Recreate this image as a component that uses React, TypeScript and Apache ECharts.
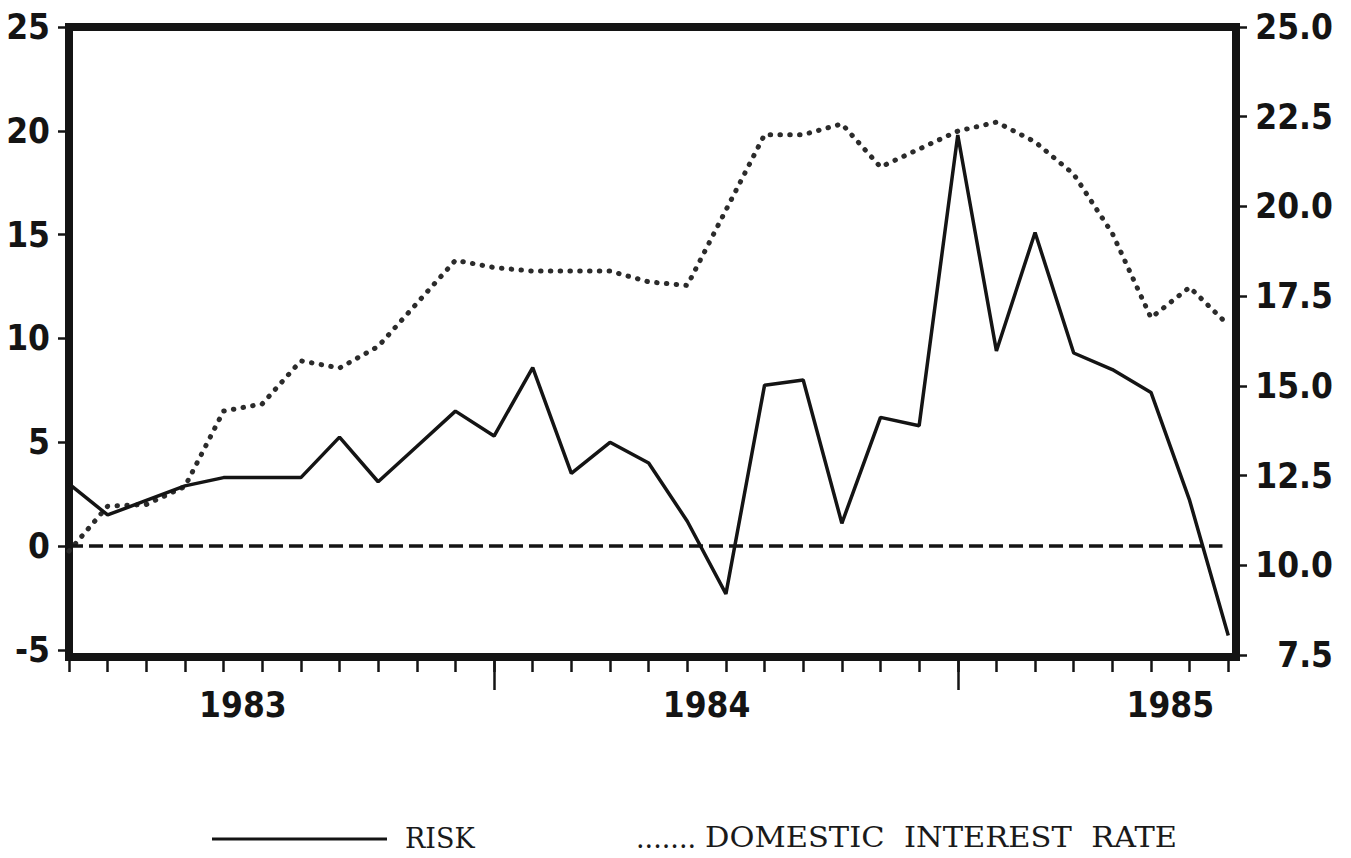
import React, { useEffect, useRef } from 'react';
import * as echarts from 'echarts';

// Monthly observations, Feb 1983 – Aug 1985
const months = [
  '1983-02', '1983-03', '1983-04', '1983-05', '1983-06', '1983-07', '1983-08', '1983-09', '1983-10', '1983-11', '1983-12',
  '1984-01', '1984-02', '1984-03', '1984-04', '1984-05', '1984-06', '1984-07', '1984-08', '1984-09', '1984-10', '1984-11', '1984-12',
  '1985-01', '1985-02', '1985-03', '1985-04', '1985-05', '1985-06', '1985-07', '1985-08',
];

// RISK (left axis)
const risk = [
  3.0, 1.5, 2.2, 2.9, 3.3, 3.3, 3.3, 5.25, 3.1, 4.8, 6.5,
  5.3, 8.6, 3.5, 5.0, 4.0, 1.2, -2.3, 7.75, 8.0, 1.1, 6.2, 5.8,
  19.8, 9.4, 15.1, 9.3, 8.5, 7.4, 2.2, -4.3,
];

// DOMESTIC INTEREST RATE (right axis)
const rate = [
  10.4, 11.65, 11.7, 12.2, 14.3, 14.5, 15.7, 15.5, 16.1, 17.3, 18.5,
  18.3, 18.2, 18.2, 18.2, 17.9, 17.8, 19.9, 22.0, 22.0, 22.3, 21.1, 21.6,
  22.1, 22.35, 21.8, 20.9, 19.25, 16.9, 17.75, 16.7,
];

const leftTicks = [-5, 0, 5, 10, 15, 20, 25];
const rightTicks = [7.5, 10, 12.5, 15, 17.5, 20, 22.5, 25];
const zeroLine = 0;

const monthIdx = months.map((_, i) => i);
const janIdx = months.map((m, i) => (m.endsWith('-01') ? i : -1)).filter((i) => i >= 0);
const midYear = months.map((m, i) => (m.endsWith('-07') ? i - 0.5 : -1)).filter((i) => i >= 0);

const labelFont = "'DejaVu Sans Condensed', 'DejaVu Sans', sans-serif";
const ink = '#141414';

export default function App() {
  const ref = useRef<HTMLDivElement>(null);
  useEffect(() => {
    const chart = echarts.init(ref.current!, null, { renderer: 'svg' });
    const xMax = 30.2;
    const axisLabelStyle = {
      fontFamily: labelFont,
      fontWeight: 'bold' as const,
      fontSize: 35,
      color: ink,
    };
    const tickLine = { color: ink, width: 2.5 };
    chart.setOption({
      animation: false,
      backgroundColor: '#ffffff',
      grid: {
        left: 69,
        right: 115,
        top: 27,
        bottom: 201,
        show: true,
        borderColor: ink,
        borderWidth: 8,
      },
      xAxis: [
        {
          type: 'value',
          min: 0,
          max: xMax,
          position: 'bottom',
          axisLine: { show: false, onZero: false },
          splitLine: { show: false },
          axisTick: { show: true, customValues: monthIdx, length: 15, lineStyle: tickLine },
          axisLabel: {
            customValues: midYear,
            formatter: (v: number) => months[Math.round(v + 0.5)].slice(0, 4),
            margin: 30,
            ...axisLabelStyle,
          },
        },
        {
          type: 'value',
          min: 0,
          max: xMax,
          position: 'bottom',
          axisLine: { show: false, onZero: false },
          splitLine: { show: false },
          axisTick: { show: true, customValues: janIdx, length: 33, lineStyle: tickLine },
          axisLabel: { show: false },
        },
      ],
      yAxis: [
        {
          type: 'value',
          position: 'left',
          min: -5.34,
          max: 25,
          axisLine: { show: false, onZero: false },
          splitLine: { show: false },
          axisTick: { show: true, customValues: leftTicks, length: 11, lineStyle: tickLine },
          axisLabel: {
            customValues: leftTicks,
            margin: 19,
            formatter: (v: number) => String(v),
            ...axisLabelStyle,
          },
        },
        {
          type: 'value',
          position: 'right',
          min: 7.45,
          max: 25,
          axisLine: { show: false, onZero: false },
          splitLine: { show: false },
          axisTick: { show: true, customValues: rightTicks, length: 11, lineStyle: tickLine },
          axisLabel: {
            customValues: rightTicks,
            margin: 97,
            align: 'right',
            formatter: (v: number) => v.toFixed(1),
            ...axisLabelStyle,
          },
        },
      ],
      series: [
        {
          name: 'RISK',
          type: 'line',
          xAxisIndex: 0,
          yAxisIndex: 0,
          data: risk.map((v, i) => [i, v]),
          symbol: 'none',
          lineStyle: { color: ink, width: 3.5 },
          markLine: {
            silent: true,
            symbol: ['none', 'none'],
            label: { show: false },
            lineStyle: { color: ink, width: 3.5, type: [14, 6] },
            data: [[{ coord: [0, zeroLine] }, { coord: [29.85, zeroLine] }]],
          },
          z: 3,
        },
        {
          name: 'DOMESTIC INTEREST RATE',
          type: 'line',
          xAxisIndex: 0,
          yAxisIndex: 1,
          data: rate.map((v, i) => [i, v]),
          symbol: 'none',
          lineStyle: { color: '#2b2b2b', width: 5, type: [0.5, 9.3], cap: 'round' },
          z: 2,
        },
      ],
      graphic: [
        {
          type: 'line',
          shape: { x1: 212, y1: 839, x2: 387, y2: 839 },
          style: { stroke: ink, lineWidth: 3 },
        },
        {
          type: 'text',
          x: 405,
          y: 838,
          style: {
            text: 'RISK',
            font: "27px 'DejaVu Serif', serif",
            fill: '#1a1a1a',
            verticalAlign: 'middle',
          },
        },
        {
          type: 'text',
          x: 636,
          y: 838,
          style: {
            text: '.......',
            font: "27px 'DejaVu Serif', serif",
            fill: '#1a1a1a',
            verticalAlign: 'middle',
          },
        },
        {
          type: 'text',
          x: 705,
          y: 838,
          scaleX: 1.13,
          style: {
            text: 'DOMESTIC  INTEREST  RATE',
            font: "27px 'DejaVu Serif', serif",
            fill: '#1a1a1a',
            verticalAlign: 'middle',
          },
        },
      ],
    });
    return () => chart.dispose();
  }, []);
  return (
    <div
      ref={ref}
      style={{ position: 'fixed', left: 0, top: 0, width: 1351, height: 858, background: '#fff' }}
    />
  );
}
